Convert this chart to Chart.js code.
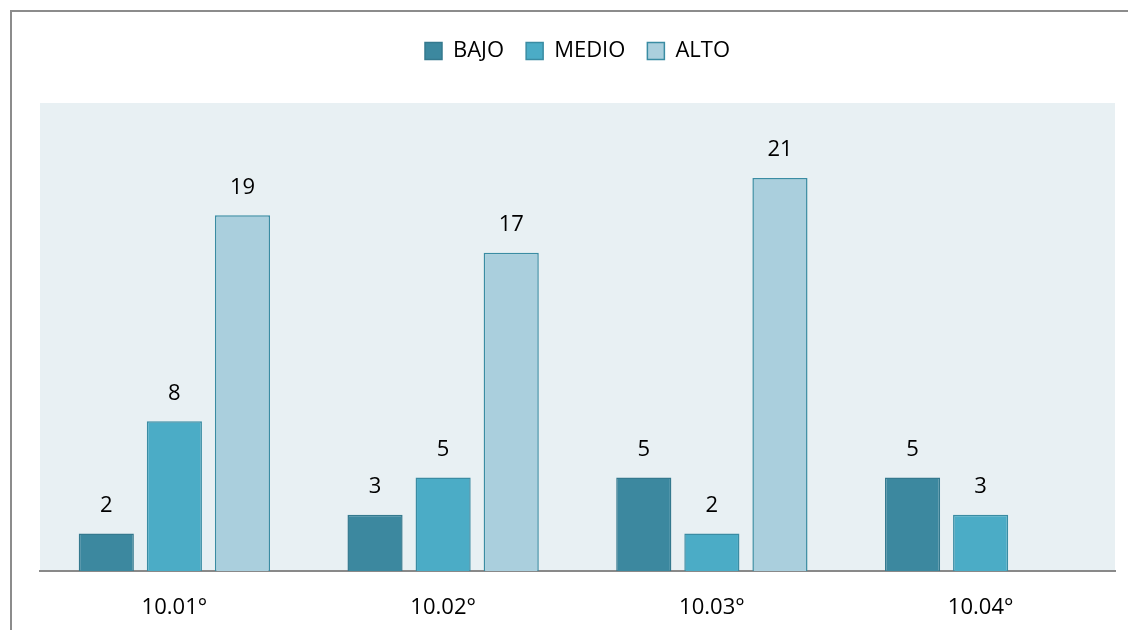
<!DOCTYPE html>
<html lang="es">
<head>
<meta charset="UTF-8" />
<title>BAJO / MEDIO / ALTO</title>
<script src="https://cdn.jsdelivr.net/npm/chart.js@4/dist/chart.umd.min.js"></script>
<style>
  html, body { margin:0; padding:0; background:#FFFFFF; overflow:hidden; }
  #wrap { position:relative; width:1128px; height:630px; }
  #frame { position:absolute; left:10px; top:10px; width:1200px; height:700px; border:2px solid #8C8C8C; box-sizing:border-box; }
  #chart { position:absolute; left:0; top:0; }
</style>
</head>
<body>
<div id="wrap">
  <div id="frame"></div>
  <canvas id="chart" width="1128" height="630"></canvas>
</div>
<script>
// grados
const grados = ['10.01°', '10.02°', '10.03°', '10.04°'];
// niveles
const bajo  = [2, 3, 5, 5];
const medio = [8, 5, 2, 3];
const alto  = [19, 17, 21, null];

const FONT = "'Open Sans', 'DejaVu Sans', sans-serif";
const FSIZE = 22;

// fondo del area de trazado
const plotBg = {
  id: 'plotBg',
  beforeDraw(chart) {
    const a = chart.chartArea, c = chart.ctx;
    c.save();
    c.fillStyle = '#E8F0F3';
    c.fillRect(a.left, a.top, a.right - a.left, a.bottom - a.top);
    c.restore();
  }
};

// etiquetas de valor sobre las barras
const valueLabels = {
  id: 'valueLabels',
  afterDatasetsDraw(chart) {
    const c = chart.ctx;
    c.save();
    c.font = FSIZE + 'px ' + FONT;
    c.fillStyle = '#000000';
    c.textAlign = 'center';
    c.textBaseline = 'middle';
    chart.data.datasets.forEach((ds, i) => {
      chart.getDatasetMeta(i).data.forEach((bar, j) => {
        const v = ds.data[j];
        if (v === null || v === undefined) return;
        c.fillText(String(v), bar.x, bar.y - 28);
      });
    });
    c.restore();
  }
};

// espacio extra bajo la leyenda
const legendGap = {
  id: 'legendGap',
  beforeInit(chart) {
    const fit = chart.legend.fit;
    chart.legend.fit = function () {
      fit.bind(chart.legend)();
      this.height += 31;
    };
  }
};

new Chart(document.getElementById('chart'), {
  type: 'bar',
  data: {
    labels: grados,
    datasets: [
      { label: 'BAJO',  data: bajo,  backgroundColor: '#3C889F', borderColor: '#34798E', borderWidth: 1.5 },
      { label: 'MEDIO', data: medio, backgroundColor: '#4BACC6', borderColor: '#3A8CA3', borderWidth: 1.5 },
      { label: 'ALTO',  data: alto,  backgroundColor: '#AACFDD', borderColor: '#3A8CA3', borderWidth: 1.5 }
    ]
  },
  options: {
    responsive: false,
    animation: false,
    devicePixelRatio: 1,
    categoryPercentage: 0.76,
    barPercentage: 0.81,
    layout: { padding: { left: 40, right: 13, top: 18, bottom: 0 } },
    scales: {
      x: {
        grid: { display: false, drawTicks: false },
        border: { display: true, color: '#898989', width: 2 },
        ticks: { color: '#000000', padding: 24, font: { family: FONT, size: FSIZE } },
        afterFit(scale) { scale.height = 59; }
      },
      y: { display: false, min: 0, max: 25 }
    },
    plugins: {
      legend: {
        position: 'top',
        labels: {
          color: '#000000',
          boxWidth: 17, boxHeight: 17,
          padding: 22,
          font: { family: FONT, size: FSIZE }
        }
      },
      tooltip: { enabled: false }
    }
  },
  plugins: [plotBg, valueLabels, legendGap]
});
</script>
</body>
</html>
